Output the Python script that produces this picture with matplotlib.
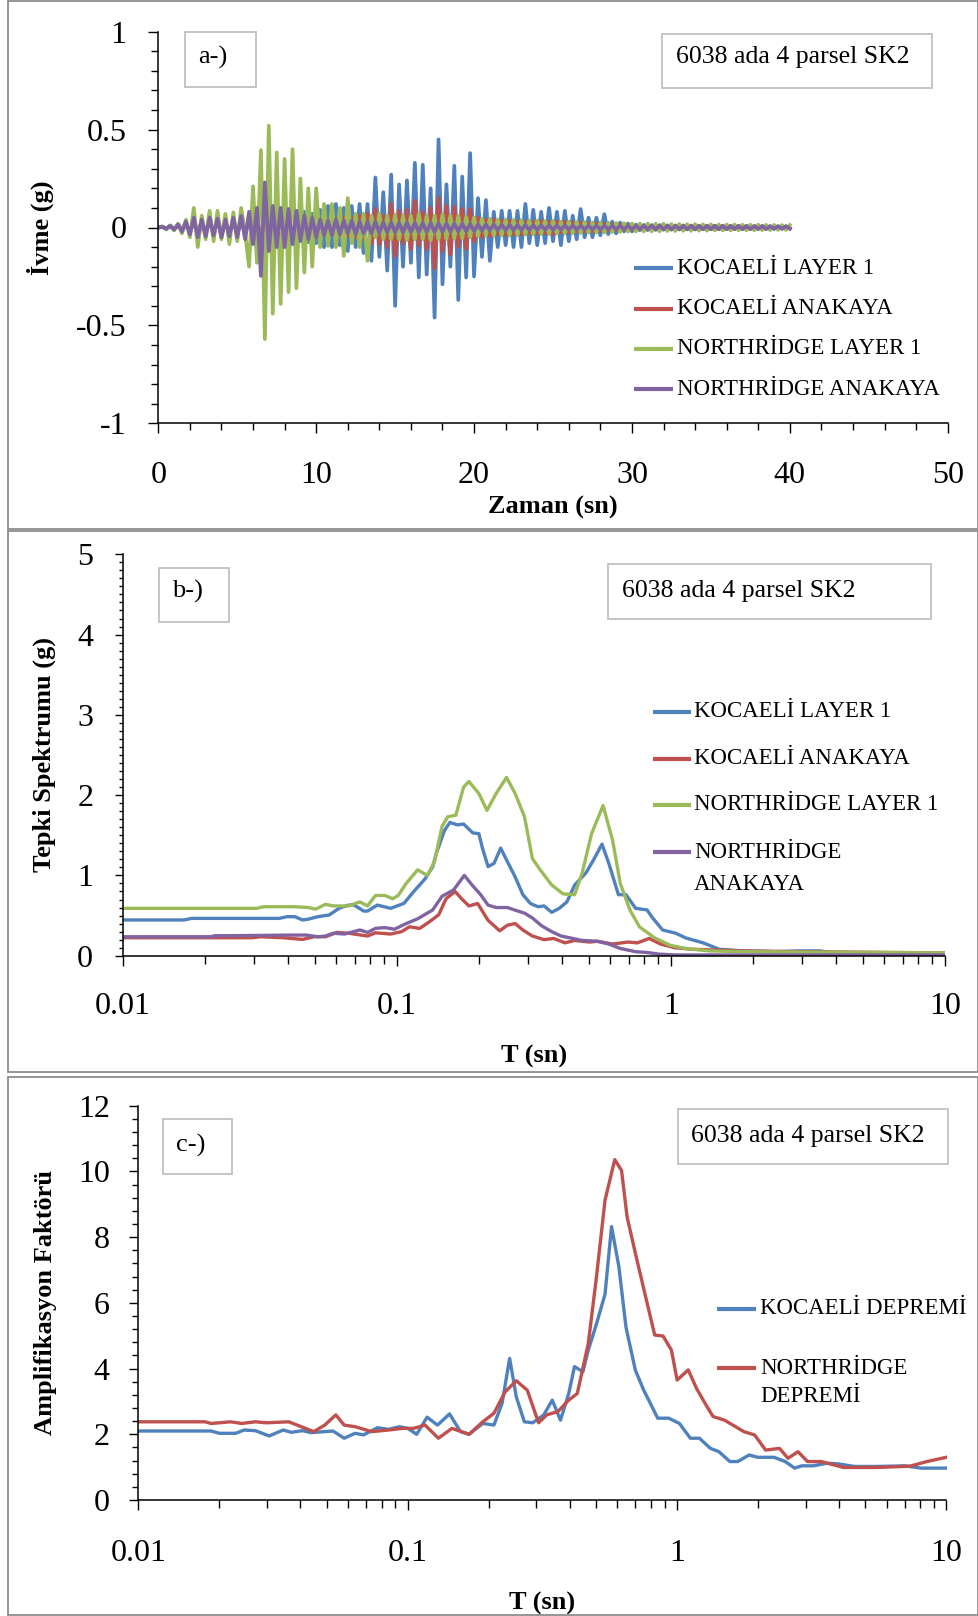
import numpy as np
import matplotlib
matplotlib.use("Agg")
import matplotlib.pyplot as plt
from matplotlib.lines import Line2D
from matplotlib.patches import Rectangle
from matplotlib.ticker import MultipleLocator, FixedLocator, FuncFormatter, NullFormatter

plt.rcParams['font.family'] = ['Liberation Serif', 'DejaVu Serif']
plt.rcParams['axes.unicode_minus'] = False

# ---------------------------------------------------------------- data
SITE = "6038 ada 4 parsel SK2"
ACC_SERIES = ["KOCAELİ LAYER 1", "KOCAELİ ANAKAYA", "NORTHRİDGE LAYER 1", "NORTHRİDGE ANAKAYA"]
AMP_SERIES = ["KOCAELİ DEPREMİ", "NORTHRİDGE DEPREMİ"]
DT = 0.25  # s, sampling step of the digitised accelerograms

kocaeli_layer1_acc = [
    0.0, 0.005, -0.008, 0.01, -0.012, 0.015, -0.02, 0.02, -0.025,
    0.03, -0.03, 0.035, -0.03, 0.04, -0.035, 0.04, -0.04, 0.035, -0.04, 0.045, -0.04,
    0.05, -0.045, 0.05, -0.05, 0.055, -0.06, 0.05, -0.055, 0.06, -0.05, 0.055, -0.06,
    0.06, -0.07, 0.065, -0.07, 0.08, -0.075, 0.07, -0.08,
    0.09, -0.1, 0.11, -0.1, 0.12, -0.09, 0.1, -0.12, 0.11, -0.1, 0.12, -0.13,
    0.12, -0.17, 0.255, -0.15, 0.18, -0.22, 0.27, -0.40, 0.22, -0.20,
    0.24, -0.18, 0.33, -0.255, 0.32, -0.24, 0.20, -0.46, 0.45, -0.29,
    0.22, -0.20, 0.315, -0.37, 0.26, -0.255, 0.38, -0.25, 0.15, -0.15,
    0.14, -0.17, 0.08, -0.10, 0.085, -0.09, 0.085, -0.10, 0.085, -0.10,
    0.12, -0.08, 0.09, -0.09, 0.08, -0.08, 0.10, -0.07, 0.08, -0.09,
    0.085, -0.07, 0.06, -0.06, 0.094, -0.05, 0.05, -0.05, 0.05, -0.04,
    0.068, -0.034, 0.03, -0.03, 0.025, -0.02, 0.02, -0.02,
    0.015, -0.014, 0.013, -0.013, 0.012, -0.012, 0.012, -0.011, 0.011, -0.011,
    0.01, -0.01, 0.01, -0.01, 0.01, -0.01, 0.009, -0.009, 0.009, -0.009,
    0.009, -0.009, 0.008, -0.008, 0.008, -0.008, 0.008, -0.008, 0.008, -0.008,
    0.007, -0.007, 0.007, -0.007, 0.007, -0.007, 0.006, -0.006, 0.006, -0.005,
]
kocaeli_rock_acc = [
    0.0, 0.003, -0.004, 0.005, -0.006, 0.008, -0.008, 0.01, -0.01,
    0.015, -0.015, 0.02, -0.018, 0.02, -0.02, 0.022, -0.02, 0.025, -0.022, 0.02, -0.025,
    0.025, -0.02, 0.025, -0.025, 0.03, -0.025, 0.025, -0.03, 0.03, -0.025, 0.03, -0.03,
    0.025, -0.03, 0.03, -0.03, 0.035, -0.03, 0.03, -0.035,
    0.035, -0.04, 0.04, -0.035, 0.045, -0.04, 0.05, -0.045, 0.05, -0.05, 0.06, -0.06,
    0.07, -0.08, 0.094, -0.085, 0.06, -0.10, 0.12, -0.145, 0.085, -0.08,
    0.09, -0.11, 0.136, -0.09, 0.08, -0.11, 0.10, -0.21, 0.15, -0.12,
    0.11, -0.136, 0.105, -0.10, 0.094, -0.11, 0.094, -0.07, 0.05, -0.05,
    0.04, -0.045, 0.04, -0.035, 0.035, -0.04, 0.034, -0.035, 0.03, -0.035,
    0.03, -0.03, 0.03, -0.03, 0.034, -0.03, 0.03, -0.035,
    0.03, -0.025, 0.03, -0.025, 0.025, -0.02, 0.025, -0.02, 0.02, -0.02,
    0.02, -0.018, 0.018, -0.015, 0.015, -0.015, 0.015, -0.012, 0.012, -0.012,
    0.01, -0.01, 0.01, -0.01, 0.01, -0.01, 0.01, -0.009, 0.009, -0.009,
    0.009, -0.009, 0.009, -0.008, 0.008, -0.008, 0.008, -0.008, 0.008, -0.008,
    0.008, -0.007, 0.007, -0.007, 0.007, -0.007, 0.007, -0.007, 0.006, -0.006,
    0.006, -0.006, 0.006, -0.006, 0.005, -0.005, 0.005, -0.005, 0.005, -0.004,
]
northridge_layer1_acc = [
    0.0, 0.005, -0.01, 0.01, -0.015, 0.02, -0.03, 0.04, -0.05,
    0.10, -0.10, 0.06, -0.06, 0.085, -0.07, 0.085, -0.06, 0.07, -0.085,
    0.077, -0.07, 0.10, -0.03, -0.20, 0.21, -0.18, 0.395, -0.57,
    0.52, -0.44, 0.383, -0.39, 0.35, -0.33, 0.40, -0.31, 0.25, -0.23,
    0.20, -0.20, 0.20, -0.10, 0.12, -0.094, 0.12, -0.10, 0.10, -0.145,
    0.15, -0.08, 0.07, -0.10, 0.07, -0.17, 0.06, -0.05, 0.07, -0.06,
    0.06, -0.06, 0.065, -0.06, 0.06, -0.065, 0.06, -0.06, 0.07, -0.06,
    0.06, -0.065, 0.06, -0.06, 0.065, -0.06, 0.06, -0.055, 0.06, -0.055,
    0.055, -0.05, 0.05,
    -0.045, 0.045, -0.04, 0.045, -0.04, 0.04, -0.04, 0.04, -0.04, 0.038,
    -0.038, 0.038, -0.035, 0.035, -0.035, 0.035, -0.033, 0.033, -0.033, 0.033,
    -0.03, 0.03, -0.03, 0.03, -0.028, 0.028, -0.028, 0.028, -0.026, 0.026,
    -0.025, 0.025, -0.025, 0.024, -0.023, 0.023, -0.022, 0.022, -0.021, 0.02,
    -0.02, 0.02, -0.02, 0.02, -0.019, 0.019, -0.019, 0.019, -0.018, 0.018,
    -0.018, 0.018, -0.017, 0.017, -0.017, 0.017, -0.016, 0.016, -0.016, 0.016,
    -0.015, 0.015, -0.015, 0.015, -0.015, 0.015, -0.014, 0.014, -0.014, 0.014,
    -0.014, 0.014, -0.013, 0.013, -0.013, 0.013, -0.012, 0.012, -0.012, 0.012,
]
northridge_rock_acc = [
    0.0, 0.003, -0.006, 0.008, -0.01, 0.015, -0.02, 0.03, -0.035,
    0.05, -0.05, 0.04, -0.045, 0.05, -0.04, 0.045, -0.05, 0.04, -0.045, 0.05, -0.05, 0.06,
    -0.06, 0.08, -0.085, 0.10, -0.247, 0.23, -0.12, 0.11, -0.10, 0.10, -0.10, 0.094,
    -0.085, 0.085, -0.068, 0.06, -0.06, 0.05, -0.05,
    0.04, -0.04, 0.035, -0.04, 0.04, -0.035, 0.035, -0.03, 0.035, -0.035,
    0.03, -0.03, 0.03, -0.03, 0.03, -0.028,
    0.025, -0.025, 0.025, -0.025, 0.024, -0.025, 0.025, -0.024, 0.024, -0.024,
    0.023, -0.023, 0.023, -0.022, 0.022, -0.022, 0.021, -0.021, 0.02, -0.02,
    0.02, -0.019, 0.018, -0.018,
    0.016, -0.016, 0.015, -0.015, 0.015, -0.015, 0.014, -0.014, 0.014, -0.014,
    0.013, -0.013, 0.013, -0.013, 0.012, -0.012, 0.012, -0.012, 0.012, -0.012,
    0.011, -0.011, 0.011, -0.011, 0.011, -0.011, 0.01, -0.01, 0.01, -0.01,
    0.01, -0.01, 0.01, -0.01, 0.01, -0.01, 0.01, -0.01, 0.009, -0.009,
    0.009, -0.009, 0.009, -0.009, 0.009, -0.009, 0.009, -0.009, 0.009, -0.009,
    0.008, -0.008, 0.008, -0.008, 0.008, -0.008, 0.008, -0.008, 0.008, -0.008,
    0.008, -0.008, 0.008, -0.008, 0.007, -0.007, 0.007, -0.007, 0.007, -0.007,
    0.007, -0.007, 0.007, -0.007, 0.006, -0.006, 0.006, -0.006, 0.006, -0.006,
]

# response spectra (T in s, Sa in g)
kl1_T = [0.01, 0.0167, 0.0178, 0.0372, 0.0397, 0.0424, 0.0452, 0.0474, 0.0514, 0.0566,
         0.0614, 0.0665, 0.0698, 0.0756, 0.0781, 0.0848, 0.0948, 0.106, 0.115, 0.127,
         0.135, 0.139, 0.149, 0.156, 0.166, 0.175, 0.189, 0.199, 0.205, 0.215,
         0.226, 0.239, 0.253, 0.270, 0.288, 0.307, 0.327, 0.344, 0.367, 0.391,
         0.417, 0.445, 0.489, 0.521, 0.560, 0.593, 0.643, 0.685, 0.743, 0.818,
         0.857, 0.932, 1.04, 1.135, 1.31, 1.50, 1.83, 2.42, 2.95, 3.49, 4.02, 10.0]
kl1_Sa = [0.445, 0.445, 0.465, 0.465, 0.486, 0.486, 0.445, 0.455, 0.486, 0.507,
          0.59, 0.63, 0.63, 0.556, 0.556, 0.63, 0.59, 0.652, 0.797, 0.963,
          1.108, 1.27, 1.56, 1.66, 1.63, 1.64, 1.53, 1.52, 1.34, 1.11,
          1.15, 1.34, 1.17, 0.98, 0.76, 0.65, 0.61, 0.62, 0.54, 0.59,
          0.67, 0.88, 1.03, 1.19, 1.39, 1.15, 0.76, 0.76, 0.59, 0.57,
          0.47, 0.32, 0.28, 0.22, 0.16, 0.08, 0.06, 0.05, 0.06, 0.06, 0.03, 0.02]

kr_T = [0.01, 0.0297, 0.0317, 0.0384, 0.0452, 0.0498, 0.0548, 0.0604, 0.0665, 0.0781,
        0.0834, 0.0948, 0.104, 0.111, 0.121, 0.131, 0.142, 0.151, 0.163, 0.172,
        0.183, 0.197, 0.215, 0.237, 0.253, 0.270, 0.288, 0.312, 0.344, 0.373,
        0.410, 0.445, 0.505, 0.538, 0.612, 0.697, 0.755, 0.832, 0.916, 1.03,
        1.2, 1.8, 3.0, 10.0]
kr_Sa = [0.224, 0.224, 0.236, 0.224, 0.203, 0.236, 0.236, 0.29, 0.28, 0.245,
         0.285, 0.27, 0.30, 0.36, 0.34, 0.42, 0.51, 0.71, 0.80, 0.71,
         0.62, 0.65, 0.44, 0.31, 0.38, 0.40, 0.32, 0.245, 0.20, 0.215,
         0.16, 0.19, 0.17, 0.18, 0.145, 0.17, 0.16, 0.215, 0.145, 0.10,
         0.08, 0.06, 0.05, 0.035]

nl1_T = [0.01, 0.0307, 0.0327, 0.0424, 0.0474, 0.0505, 0.0548, 0.0585, 0.0665, 0.0732,
         0.0781, 0.0834, 0.0903, 0.0964, 0.101, 0.108, 0.119, 0.129, 0.137, 0.146,
         0.153, 0.164, 0.175, 0.183, 0.199, 0.213, 0.230, 0.251, 0.270, 0.292,
         0.312, 0.333, 0.367, 0.404, 0.445, 0.474, 0.513, 0.565, 0.612, 0.653,
         0.708, 0.767, 0.873, 0.993, 1.13, 1.38, 1.83, 10.0]
nl1_Sa = [0.59, 0.59, 0.61, 0.61, 0.60, 0.58, 0.64, 0.62, 0.62, 0.67,
          0.62, 0.75, 0.75, 0.71, 0.75, 0.90, 1.07, 1.00, 1.17, 1.61,
          1.73, 1.75, 2.10, 2.17, 2.02, 1.81, 2.02, 2.22, 2.02, 1.73,
          1.21, 1.07, 0.88, 0.77, 0.76, 1.03, 1.52, 1.87, 1.44, 0.90,
          0.57, 0.36, 0.22, 0.13, 0.09, 0.06, 0.05, 0.035]

nr_T = [0.01, 0.0209, 0.0216, 0.0245, 0.0410, 0.0467, 0.0514, 0.0548, 0.0585, 0.0644,
        0.0732, 0.0781, 0.0834, 0.0904, 0.0979, 0.108, 0.119, 0.135, 0.146, 0.161,
        0.176, 0.189, 0.202, 0.215, 0.230, 0.253, 0.274, 0.292, 0.312, 0.338,
        0.367, 0.397, 0.431, 0.474, 0.538, 0.593, 0.653, 0.743, 0.818, 0.902,
        1.03, 10.0]
nr_Sa = [0.236, 0.236, 0.249, 0.249, 0.257, 0.257, 0.236, 0.245, 0.28, 0.27,
         0.32, 0.29, 0.34, 0.35, 0.33, 0.40, 0.46, 0.57, 0.74, 0.82,
         1.00, 0.87, 0.76, 0.63, 0.60, 0.60, 0.56, 0.53, 0.47, 0.37,
         0.30, 0.245, 0.22, 0.19, 0.18, 0.145, 0.09, 0.05, 0.04, 0.02,
         0.01, 0.01]

# amplification factors
ka_T = [0.01, 0.0186, 0.0200, 0.0230, 0.0247, 0.0272, 0.0306, 0.0345, 0.0370, 0.0407,
        0.0437, 0.0528, 0.0581, 0.0638, 0.0685, 0.0772, 0.0849, 0.0933, 0.100, 0.108,
        0.118, 0.129, 0.143, 0.157, 0.169, 0.190, 0.209, 0.224, 0.239, 0.253,
        0.271, 0.291, 0.320, 0.344, 0.369, 0.396, 0.416, 0.447, 0.468, 0.502,
        0.540, 0.571, 0.608, 0.646, 0.700, 0.751, 0.807, 0.847, 0.931, 1.02,
        1.12, 1.21, 1.33, 1.43, 1.57, 1.68, 1.85, 1.99, 2.29, 2.52,
        2.73, 2.90, 3.20, 3.60, 3.96, 4.56, 5.52, 6.99, 8.05, 10.0]
ka_AF = [2.10, 2.10, 2.03, 2.03, 2.13, 2.11, 1.95, 2.13, 2.06, 2.11,
         2.05, 2.10, 1.88, 2.03, 1.98, 2.20, 2.15, 2.23, 2.18, 2.00,
         2.52, 2.28, 2.62, 2.08, 2.00, 2.33, 2.28, 2.94, 4.31, 3.14,
         2.38, 2.35, 2.59, 3.04, 2.43, 3.24, 4.06, 3.90, 4.56, 5.36,
         6.26, 8.32, 7.10, 5.26, 3.95, 3.35, 2.84, 2.49, 2.49, 2.33,
         1.88, 1.88, 1.57, 1.47, 1.17, 1.17, 1.37, 1.30, 1.30, 1.17,
         0.97, 1.04, 1.04, 1.12, 1.10, 1.02, 1.02, 1.04, 0.97, 0.97]

na_T = [0.01, 0.0177, 0.0186, 0.0200, 0.0220, 0.0242, 0.0272, 0.0299, 0.0362, 0.0397,
        0.0448, 0.0492, 0.0541, 0.0581, 0.0638, 0.0736, 0.0849, 0.0955, 0.105, 0.116,
        0.130, 0.146, 0.169, 0.190, 0.209, 0.230, 0.253, 0.278, 0.306, 0.328,
        0.361, 0.396, 0.426, 0.468, 0.502, 0.540, 0.587, 0.622, 0.652, 0.700,
        0.769, 0.826, 0.887, 0.953, 1.00, 1.10, 1.18, 1.27, 1.36, 1.50,
        1.61, 1.77, 1.94, 2.13, 2.40, 2.58, 2.81, 3.05, 3.43, 4.15,
        5.52, 7.33, 8.45, 10.0]
na_AF = [2.38, 2.38, 2.33, 2.35, 2.38, 2.33, 2.38, 2.35, 2.38, 2.25,
         2.08, 2.28, 2.59, 2.28, 2.23, 2.08, 2.13, 2.18, 2.18, 2.28,
         1.88, 2.18, 2.00, 2.38, 2.64, 3.29, 3.63, 3.34, 2.35, 2.59,
         2.69, 3.04, 3.24, 4.76, 6.79, 9.12, 10.36, 10.03, 8.62, 7.51,
         6.09, 5.02, 4.99, 4.56, 3.65, 3.96, 3.40, 2.94, 2.54, 2.43,
         2.28, 2.08, 1.98, 1.52, 1.57, 1.27, 1.47, 1.17, 1.17, 0.99,
         0.99, 1.03, 1.17, 1.30]

# ---------------------------------------------------------------- style
C_BLUE, C_RED, C_GREEN, C_PURPLE = "#4F81BD", "#C0504D", "#9BBB59", "#8064A2"
W, H, DPI = 979, 1616, 100
TICK_FS, LEG_FS, BOX_FS, LAB_FS = 23, 16.5, 18.5, 19
LW = 2.4

fig = plt.figure(figsize=(W / DPI, H / DPI), dpi=DPI)
fig.patch.set_facecolor("white")


def fx(x):
    return x / W


def fy(y):
    return 1 - y / H


def add_axes_px(x0, y0, x1, y1):
    return fig.add_axes([fx(x0), fy(y1), (x1 - x0) / W, (y1 - y0) / H])


def frame_px(x0, y0, x1, y1, color, lw):
    fig.add_artist(Rectangle((fx(x0), fy(y1)), (x1 - x0) / W, (y1 - y0) / H,
                             transform=fig.transFigure, fill=False,
                             edgecolor=color, linewidth=lw))


def text_px(x, y, s, size, **kw):
    fig.text(fx(x), fy(y), s, fontsize=size, ha="left", va="center", **kw)


def legend_px(x0, x1, xt, rows):
    for y, color, label in rows:
        if color is not None:
            fig.add_artist(Line2D([fx(x0), fx(x1)], [fy(y), fy(y)],
                                  transform=fig.transFigure, color=color,
                                  linewidth=3.0, solid_capstyle="butt"))
        text_px(xt, y, label, LEG_FS)


def style_axes(ax):
    for s in ("top", "right"):
        ax.spines[s].set_visible(False)
    for s in ("left", "bottom"):
        ax.spines[s].set_linewidth(1.1)
    ax.tick_params(which="both", direction="out", width=1.0, colors="black",
                   labelsize=TICK_FS)


fmt = FuncFormatter(lambda v, p: "%g" % v)

# panel borders
frame_px(8, 1, 978, 529, "#8c8c8c", 1.3)
frame_px(8, 531, 978, 1072, "#8c8c8c", 1.3)
frame_px(8, 1077, 978, 1615, "#8c8c8c", 1.3)

# ---------------------------------------------------------------- panel a
axa = add_axes_px(158.3, 31.7, 947.7, 423.3)
for vals, col in ((kocaeli_layer1_acc, C_BLUE), (kocaeli_rock_acc, C_RED),
                  (northridge_layer1_acc, C_GREEN), (northridge_rock_acc, C_PURPLE)):
    t = np.arange(len(vals)) * DT
    axa.plot(t, vals, color=col, linewidth=2.7, solid_joinstyle="round")
axa.set_xlim(0, 50)
axa.set_ylim(-1, 1)
style_axes(axa)
axa.xaxis.set_major_locator(MultipleLocator(10))
axa.xaxis.set_minor_locator(MultipleLocator(2))
axa.yaxis.set_major_locator(MultipleLocator(0.5))
axa.yaxis.set_minor_locator(MultipleLocator(0.1))
axa.xaxis.set_major_formatter(fmt)
axa.yaxis.set_major_formatter(fmt)
axa.tick_params(axis="x", which="major", length=7, pad=20)
axa.tick_params(axis="x", which="minor", length=5)
axa.tick_params(axis="y", which="major", length=7, pad=16)
axa.tick_params(axis="y", which="minor", length=5)
axa.set_xlabel("Zaman (sn)", fontsize=LAB_FS, fontweight="bold")
axa.set_ylabel("İvme (g)", fontsize=LAB_FS, fontweight="bold")
axa.xaxis.set_label_coords(0.5, (423.3 - 507) / 391.6)
axa.yaxis.set_label_coords((40 - 158.3) / 789.4, 0.5)
axa.xaxis.label.set_va("center")
axa.yaxis.label.set_va("center")

frame_px(185, 32, 255.7, 87, "#c0c0c0", 1.3)
text_px(198, 57, "a-)", LAB_FS)
frame_px(662, 34, 932, 88, "#c0c0c0", 1.3)
text_px(676, 57, SITE, BOX_FS)
legend_px(634, 673, 677, [(268.3, C_BLUE, ACC_SERIES[0]), (309, C_RED, ACC_SERIES[1]),
                          (349, C_GREEN, ACC_SERIES[2]), (389.3, C_PURPLE, ACC_SERIES[3])])

# ---------------------------------------------------------------- panel b
axb = add_axes_px(123, 554.3, 945, 955.7)
axb.plot(kl1_T, kl1_Sa, color=C_BLUE, linewidth=LW)
axb.plot(kr_T, kr_Sa, color=C_RED, linewidth=LW)
axb.plot(nl1_T, nl1_Sa, color=C_GREEN, linewidth=LW)
axb.plot(nr_T, nr_Sa, color=C_PURPLE, linewidth=LW)
axb.set_xscale("log")
axb.set_xlim(0.01, 10)
axb.set_ylim(0, 5)
style_axes(axb)
axb.xaxis.set_major_locator(FixedLocator([0.01, 0.1, 1, 10]))
axb.xaxis.set_minor_locator(FixedLocator([m * d for d in (0.01, 0.1, 1) for m in range(2, 10)]))
axb.xaxis.set_major_formatter(fmt)
axb.xaxis.set_minor_formatter(NullFormatter())
axb.yaxis.set_major_locator(MultipleLocator(1))
axb.yaxis.set_minor_locator(MultipleLocator(0.1))
axb.yaxis.set_major_formatter(fmt)
axb.tick_params(axis="x", which="major", length=7.4, pad=19)
axb.tick_params(axis="x", which="minor", length=5.5)
axb.tick_params(axis="y", which="major", length=5.5, pad=16)
axb.tick_params(axis="y", which="minor", length=3)
axb.set_xlabel("T (sn)", fontsize=LAB_FS, fontweight="bold")
axb.set_ylabel("Tepki Spektrumu (g)", fontsize=LAB_FS, fontweight="bold")
axb.xaxis.set_label_coords(0.5, (955.7 - 1056) / 401.4)
axb.yaxis.set_label_coords((44 - 123) / 822, 0.5)
axb.xaxis.label.set_va("center")
axb.yaxis.label.set_va("center")

frame_px(159.3, 567.7, 229.3, 621.7, "#c0c0c0", 1.3)
text_px(172, 591, "b-)", LAB_FS)
frame_px(608, 564, 931, 619, "#c0c0c0", 1.3)
text_px(622, 591, SITE, BOX_FS)
legend_px(653, 690.5, 694, [(711.7, C_BLUE, ACC_SERIES[0]), (759, C_RED, ACC_SERIES[1]),
                            (805, C_GREEN, ACC_SERIES[2]), (852.3, C_PURPLE, "NORTHRİDGE"),
                            (884, None, "ANAKAYA")])

# ---------------------------------------------------------------- panel c
axc = add_axes_px(138.3, 1105.7, 946.5, 1500)
axc.plot(ka_T, ka_AF, color=C_BLUE, linewidth=LW)
axc.plot(na_T, na_AF, color=C_RED, linewidth=LW)
axc.set_xscale("log")
axc.set_xlim(0.01, 10)
axc.set_ylim(0, 12)
style_axes(axc)
axc.xaxis.set_major_locator(FixedLocator([0.01, 0.1, 1, 10]))
axc.xaxis.set_minor_locator(FixedLocator([m * d for d in (0.01, 0.1, 1) for m in range(2, 10)]))
axc.xaxis.set_major_formatter(fmt)
axc.xaxis.set_minor_formatter(NullFormatter())
axc.yaxis.set_major_locator(MultipleLocator(2))
axc.yaxis.set_minor_locator(MultipleLocator(0.4))
axc.yaxis.set_major_formatter(fmt)
axc.tick_params(axis="x", which="major", length=7.2, pad=21)
axc.tick_params(axis="x", which="minor", length=5.5)
axc.tick_params(axis="y", which="major", length=6.5, pad=14)
axc.tick_params(axis="y", which="minor", length=4)
axc.set_xlabel("T (sn)", fontsize=LAB_FS, fontweight="bold")
axc.set_ylabel("Amplifikasyon Faktörü", fontsize=LAB_FS, fontweight="bold")
axc.xaxis.set_label_coords(0.5, (1500 - 1603) / 394.3)
axc.yaxis.set_label_coords((46 - 138.3) / 808.2, 0.5)
axc.xaxis.label.set_va("center")
axc.yaxis.label.set_va("center")

frame_px(162.7, 1119, 232.3, 1174, "#c0c0c0", 1.3)
text_px(176, 1145, "c-)", LAB_FS)
frame_px(678, 1109, 948, 1164, "#c0c0c0", 1.3)
text_px(691, 1136, SITE, BOX_FS)
legend_px(717, 756.5, 760, [(1309, C_BLUE, AMP_SERIES[0]), (1368, C_RED, "NORTHRİDGE"),
                            (1397, None, "DEPREMİ")])

fig.savefig("out.png", dpi=DPI, facecolor="white")
